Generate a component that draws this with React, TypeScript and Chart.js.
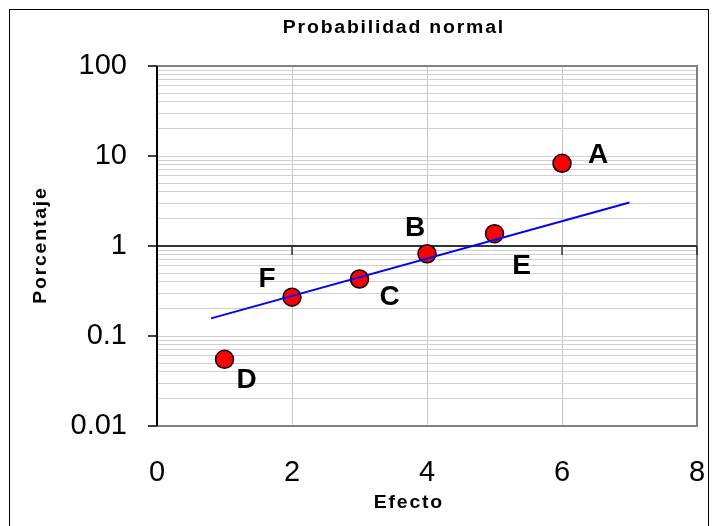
import React, { useEffect, useRef } from "react";
import { Chart, registerables } from "chart.js";

Chart.register(...registerables);

// ---- data ----
const pointNames = ["A", "B", "C", "D", "E", "F"];
const effectX = [6, 4, 3, 1, 5, 2];
const percentY = [8.3, 0.82, 0.43, 0.055, 1.37, 0.27];
const fitX = [0.8, 7.0];
const fitY = [0.157, 3.05];
const yTickLabels = ["0.01", "0.1", "1", "10", "100"];
const xTickLabels = ["0", "2", "4", "6", "8"];
const chartTitle = "Probabilidad normal";
const xTitle = "Efecto";
const yTitle = "Porcentaje";

// label offsets (px) of point names relative to their markers
const labelOffsets: [number, number][] = [
  [36, -9],
  [-12, -26],
  [30, 17],
  [22, 20],
  [27, 32],
  [-25, -19],
];

const FONT = "'Liberation Sans', Arial, Helvetica, sans-serif";

function isDecade(v: number) {
  const l = Math.log10(v);
  return Math.abs(l - Math.round(l)) < 1e-9;
}

// draws text horizontally stretched with letter spacing, centred on cx
function drawSpaced(
  ctx: CanvasRenderingContext2D,
  text: string,
  cx: number,
  baseline: number,
  spacing: number,
  stretch: number
) {
  ctx.save();
  ctx.textAlign = "left";
  ctx.textBaseline = "alphabetic";
  const widths = Array.from(text).map((ch) => ctx.measureText(ch).width * stretch);
  const total = widths.reduce((a, b) => a + b, 0) + spacing * (text.length - 1);
  let x = cx - total / 2;
  Array.from(text).forEach((ch, i) => {
    ctx.save();
    ctx.translate(x, baseline);
    ctx.scale(stretch, 1);
    ctx.fillText(ch, 0, 0);
    ctx.restore();
    x += widths[i] + spacing;
  });
  ctx.restore();
}

const framePlugin = {
  id: "framePlugin",
  beforeDatasetsDraw(chart: any) {
    const { ctx, chartArea } = chart;
    const { left, right, top, bottom } = chartArea;
    const xs = chart.scales.x;
    const ys = chart.scales.y;
    ctx.save();
    // gray plot border (top, right, bottom)
    ctx.strokeStyle = "#808080";
    ctx.lineWidth = 2;
    ctx.beginPath();
    ctx.moveTo(left, top);
    ctx.lineTo(right, top);
    ctx.lineTo(right, bottom);
    ctx.lineTo(left, bottom);
    ctx.stroke();
    // horizontal axis line at y = 1
    const y1 = ys.getPixelForValue(1);
    ctx.strokeStyle = "#333333";
    ctx.lineWidth = 2;
    ctx.beginPath();
    ctx.moveTo(left, y1);
    ctx.lineTo(right, y1);
    ctx.stroke();
    // x tick marks (downward)
    ctx.lineWidth = 1.5;
    for (let i = 1; i < xTickLabels.length; i++) {
      const px = xs.getPixelForValue(Number(xTickLabels[i]));
      ctx.beginPath();
      ctx.moveTo(px, y1);
      ctx.lineTo(px, y1 + 9);
      ctx.stroke();
    }
    // left axis
    ctx.strokeStyle = "#000000";
    ctx.lineWidth = 2;
    ctx.beginPath();
    ctx.moveTo(left, top);
    ctx.lineTo(left, bottom);
    ctx.stroke();
    // y tick marks at decades (outside)
    ctx.lineWidth = 1.5;
    for (const lab of yTickLabels) {
      const py = ys.getPixelForValue(Number(lab));
      ctx.beginPath();
      ctx.moveTo(left - 9, py);
      ctx.lineTo(left, py);
      ctx.stroke();
    }
    ctx.restore();
  },
  afterDraw(chart: any) {
    const { ctx } = chart;
    const xs = chart.scales.x;
    const ys = chart.scales.y;
    ctx.save();
    ctx.fillStyle = "#000000";
    // point names
    ctx.font = `bold 28px ${FONT}`;
    ctx.textAlign = "center";
    ctx.textBaseline = "middle";
    pointNames.forEach((n, i) => {
      const px = xs.getPixelForValue(effectX[i]) + labelOffsets[i][0];
      const py = ys.getPixelForValue(percentY[i]) + labelOffsets[i][1];
      ctx.fillText(n, px, py + 1);
    });
    // chart title
    ctx.font = `bold 18px ${FONT}`;
    drawSpaced(ctx, chartTitle, 383, 23, 1.8, 1.08);
    // x title
    drawSpaced(ctx, xTitle, 398, 498, 1.8, 1.08);
    // y title (rotated)
    ctx.save();
    ctx.translate(36, 236);
    ctx.rotate(-Math.PI / 2);
    drawSpaced(ctx, yTitle, 0, 0, 1.8, 1.08);
    ctx.restore();
    ctx.restore();
  },
};

export default function App() {
  const canvasRef = useRef<HTMLCanvasElement | null>(null);

  useEffect(() => {
    if (!canvasRef.current) return;
    Chart.defaults.font.family = FONT;
    const yTicks: number[] = [];
    for (let e = -2; e < 2; e++) {
      for (let m = 1; m <= 9; m++) yTicks.push(Number((m * Math.pow(10, e)).toPrecision(6)));
    }
    yTicks.push(100);

    const chart = new Chart(canvasRef.current, {
      type: "scatter",
      data: {
        datasets: [
          {
            type: "line",
            label: "Ajuste",
            data: fitX.map((x, i) => ({ x, y: fitY[i] })),
            borderColor: "#0000ff",
            borderWidth: 2,
            pointRadius: 0,
            fill: false,
            order: 0,
          } as any,
          {
            label: "Efectos",
            data: effectX.map((x, i) => ({ x, y: percentY[i] })),
            backgroundColor: "#ff0000",
            borderColor: "#000000",
            borderWidth: 1.5,
            pointRadius: 9,
            pointHoverRadius: 9,
            order: 1,
          },
        ],
      },
      options: {
        animation: false,
        responsive: true,
        maintainAspectRatio: false,
        events: [],
        layout: { autoPadding: false, padding: { left: 0, top: 56, right: 11, bottom: 0 } },
        plugins: {
          legend: { display: false },
          title: { display: false },
          tooltip: { enabled: false },
        },
        scales: {
          x: {
            type: "linear",
            min: 0,
            max: 8,
            afterFit: (s: any) => {
              s.height = 100;
              s.paddingLeft = 0;
              s.paddingRight = 0;
            },
            ticks: {
              stepSize: 2,
              autoSkip: false,
              padding: 30,
              color: "#000",
              font: { size: 29 },
              callback: (v: any) => {
                const idx = Math.round(Number(v) / 2);
                return xTickLabels[idx] ?? "";
              },
            },
            grid: {
              color: "#c8c8c8",
              lineWidth: 1,
              drawTicks: false,
            },
            border: { display: false },
          },
          y: {
            type: "logarithmic",
            min: 0.01,
            max: 100,
            afterFit: (s: any) => {
              s.width = 147;
              s.paddingTop = 0;
              s.paddingBottom = 0;
            },
            afterBuildTicks: (s: any) => {
              s.ticks = yTicks.map((v) => ({ value: v }));
            },
            ticks: {
              autoSkip: false,
              padding: 30,
              color: "#000",
              font: { size: 29 },
              callback: (v: any) => {
                const n = Number(v);
                if (!isDecade(n)) return "";
                return yTickLabels[Math.round(Math.log10(n)) + 2] ?? "";
              },
            },
            grid: {
              color: "#d0d0d0",
              lineWidth: 1,
              drawTicks: false,
            },
            border: { display: false },
          },
        },
      },
      plugins: [framePlugin],
    });
    return () => chart.destroy();
  }, []);

  return (
    <div style={{ paddingTop: 1, paddingLeft: 1 }}>
      <div
        style={{
          position: "relative",
          width: 698,
          height: 516,
          borderLeft: "1px solid #000",
          borderTop: "1px solid #000",
          borderRight: "1px solid #000",
        }}
      >
        <canvas ref={canvasRef} style={{ display: "block" }} />
      </div>
    </div>
  );
}
